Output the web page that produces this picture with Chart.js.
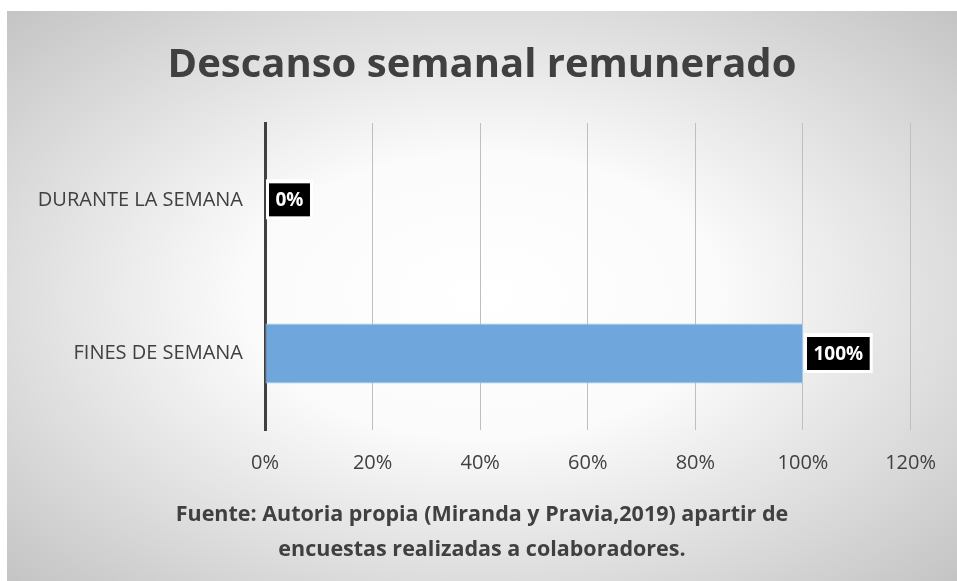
<!DOCTYPE html>
<html>
<head>
<meta charset="utf-8">
<script src="https://cdn.jsdelivr.net/npm/chart.js@4"></script>
<style>
  html, body { margin: 0; padding: 0; background: #fff; }
  #box {
    position: absolute; left: 7px; top: 11px; width: 950px; height: 570px;
    background: radial-gradient(ellipse farthest-corner at 50% 50%, #ffffff 0%, #fbfbfb 35%, #c4c4c4 100%);
  }
</style>
</head>
<body>
<div id="box"><canvas id="chart" width="950" height="570"></canvas></div>
<script>
// Data
const categories = ['DURANTE LA SEMANA', 'FINES DE SEMANA'];
const values = [0, 100];
const xMax = 120;
const xStep = 20;

const titleText = 'Descanso semanal remunerado';
const sourceText = ['Fuente: Autoria propia (Miranda y Pravia,2019) apartir de', 'encuestas realizadas a colaboradores.'];

const FONT = "'Open Sans'";

// Black value boxes with a white rim
const valueLabels = {
    id: 'valueLabels',
    afterDatasetsDraw(chart) {
        const ctx = chart.ctx;
        const meta = chart.getDatasetMeta(0);
        ctx.save();
        ctx.font = 'bold 19px ' + FONT;
        ctx.textBaseline = 'middle';
        ctx.textAlign = 'center';
        meta.data.forEach((bar, i) => {
            const txt = values[i] + '%';
            const w = ctx.measureText(txt).width + 13;
            const h = 33;
            const x = bar.x + 4;
            const y = bar.y - h / 2;
            ctx.fillStyle = '#ffffff';
            ctx.fillRect(x - 3, y - 4, w + 6, h + 7);
            ctx.fillStyle = '#000000';
            ctx.fillRect(x, y, w, h);
            ctx.fillStyle = '#ffffff';
            ctx.fillText(txt, x + w / 2, bar.y + 1);
        });
        ctx.restore();
    }
};

const ctx = document.getElementById('chart').getContext('2d');
new Chart(ctx, {
    type: 'bar',
    data: {
        labels: categories,
        datasets: [{
            data: values,
            backgroundColor: '#6fa6db',
            borderColor: '#a4c6ea',
            borderWidth: 1,
            borderSkipped: false,
            barPercentage: 0.39,
            categoryPercentage: 1
        }]
    },
    options: {
        indexAxis: 'y',
        responsive: false,
        animation: false,
        layout: { padding: { left: 0, right: 0, top: 0, bottom: 14 } },
        plugins: {
            legend: { display: false },
            tooltip: { enabled: false },
            title: {
                display: true,
                text: titleText,
                color: '#404040',
                font: { family: FONT, size: 40, weight: 'bold', lineHeight: 1.2 },
                padding: { top: 31, bottom: 33 }
            },
            subtitle: {
                display: true,
                position: 'bottom',
                text: sourceText,
                color: '#404040',
                font: { family: FONT, size: 21.5, weight: 'bold', lineHeight: 1.62 },
                padding: { top: 21, bottom: 0 }
            }
        },
        scales: {
            x: {
                min: 0,
                max: xMax,
                afterFit(scale) { scale.height = 46; },
                ticks: {
                    stepSize: xStep,
                    padding: 21,
                    maxRotation: 0,
                    color: '#404040',
                    font: { family: FONT, size: 20 },
                    callback: v => v + '%'
                },
                grid: { color: '#bfbfbf', lineWidth: 1, drawTicks: false },
                border: { display: false }
            },
            y: {
                afterFit(scale) { scale.width = 258; },
                ticks: {
                    padding: 22,
                    color: '#404040',
                    font: { family: FONT, size: 20 }
                },
                grid: { display: false, drawTicks: false },
                border: { color: '#404040', width: 3 }
            },
            yRight: {
                type: 'category',
                position: 'right',
                afterFit(scale) { scale.width = 46; },
                ticks: { display: false },
                grid: { display: false, drawTicks: false },
                border: { display: false }
            }
        }
    },
    plugins: [valueLabels]
});
</script>
</body>
</html>
